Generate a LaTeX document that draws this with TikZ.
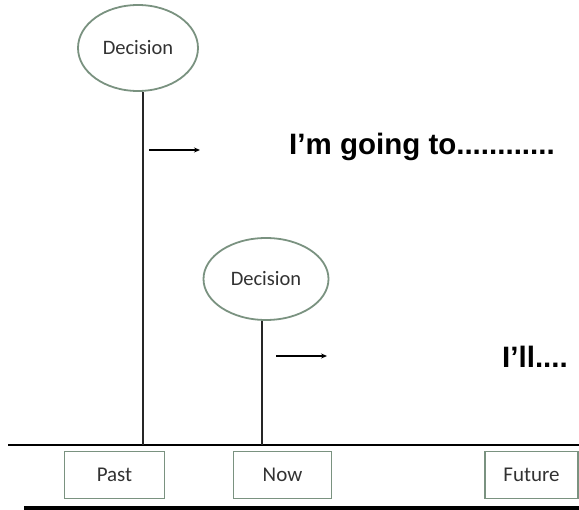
\documentclass[tikz,border=0pt]{standalone}
\usepackage{fontspec}
\setmainfont{Carlito}
\newfontfamily\boldsans{Liberation Sans}
\usetikzlibrary{shapes.geometric,arrows.meta}
\definecolor{edgegreen}{RGB}{122,146,128}
\definecolor{txtgray}{RGB}{50,50,50}
\tikzset{
  decisionbox/.style={ellipse,draw=edgegreen,line width=1.8pt,inner sep=0pt,text=txtgray,font=\fontsize{20.5}{23}\selectfont},
  timebox/.style={rectangle,draw=edgegreen,line width=1.8pt,inner sep=0pt,minimum height=47pt,text=txtgray,font=\fontsize{21}{24}\selectfont},
  stem/.style={line width=1.3pt,draw=black!85},
  pointer/.style={line width=1.2pt,-{Stealth[length=6pt,width=5pt]}},
  bigtext/.style={anchor=base west,inner sep=0pt,font=\boldsans\bfseries\fontsize{29.5}{33}\selectfont}
}
\begin{document}
\begin{tikzpicture}[x=1pt,y=-1pt]
\useasboundingbox (0,0) rectangle (579,510);
% decisions
\node[decisionbox,minimum width=120pt,minimum height=86pt] (d1) at (138,48) {Decision};
\node[decisionbox,minimum width=125pt,minimum height=82pt] (d2) at (266,279) {Decision};
% timeline
\coordinate (tlL) at (8,445);
\coordinate (tlR) at (579,445);
\draw[line width=1.5pt] (tlL) -- (tlR);
\coordinate (v1) at (143,445);
\coordinate (v2) at (262,445);
\draw[stem] (v1 |- d1.south) -- (v1);
\draw[stem] (v2 |- d2.south) -- (v2);
% arrows
\coordinate (a1s) at (149,150);
\coordinate (a1e) at (200,150);
\draw[pointer] (a1s) -- (a1e);
\coordinate (a2s) at (276,356);
\coordinate (a2e) at (327,356);
\draw[pointer] (a2s) -- (a2e);
% texts
\node[bigtext] (t1) at (289,155) {I’m going to............};
\node[bigtext] (t2) at (502,368) {I’ll....};
% time boxes
\node[timebox,minimum width=100pt] (past) at (114.5,475) {Past};
\node[timebox,minimum width=98pt] (now) at (282.5,475) {Now};
\node[timebox,minimum width=93pt] (future) at (531.5,475) {Future};
% bottom thick line
\coordinate (bL) at (24,508);
\coordinate (bR) at (579,508);
\draw[line width=4pt] (bL) -- (bR);
\end{tikzpicture}
\end{document}
